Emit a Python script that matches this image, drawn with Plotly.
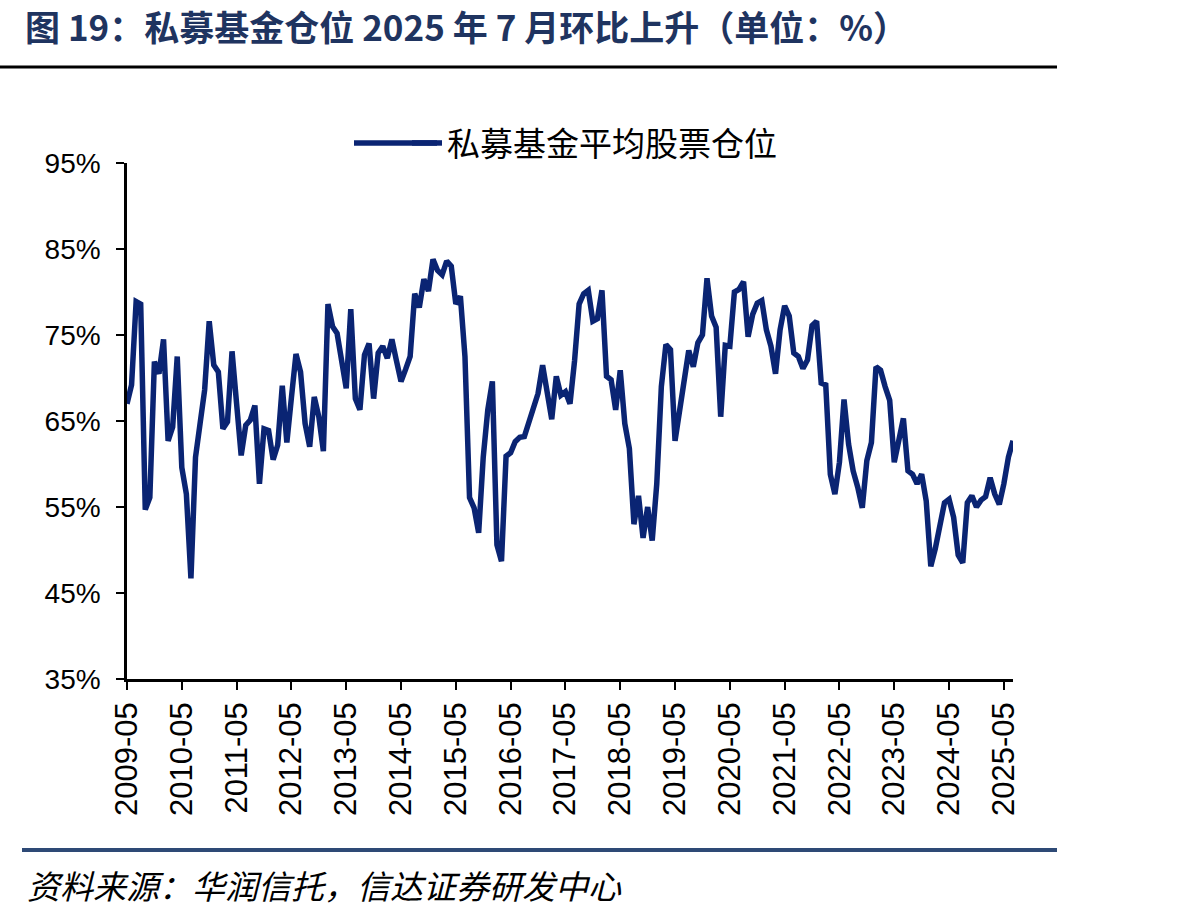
import pandas as pd
import plotly.graph_objects as go

# ---- data -------------------------------------------------------------
months = [d.strftime("%Y-%m") for d in pd.date_range("2009-05-01", "2025-07-01", freq="MS")]

position = [
    67.0, 69.2, 78.9, 78.6, 54.7, 56.1, 71.9, 70.5, 74.5, 62.7, 64.3, 72.5,   # 2009-05 .. 2010-04
    59.6, 56.5, 46.7, 60.8, 64.7, 68.6, 76.6, 71.5, 70.7, 64.1, 64.9, 73.1,   # 2010-05 .. 2011-04
    67.0, 61.0, 64.5, 65.1, 66.8, 57.7, 64.1, 63.9, 60.5, 62.2, 69.1, 62.5,   # 2011-05 .. 2012-04
    67.7, 72.8, 70.7, 64.7, 62.0, 67.8, 65.5, 61.5, 78.6, 76.0, 75.2, 72.0,   # 2012-05 .. 2013-04
    68.8, 78.0, 67.6, 66.3, 72.7, 74.0, 67.6, 72.9, 73.7, 72.3, 74.5, 72.0,   # 2013-05 .. 2014-04
    69.6, 71.0, 72.5, 79.8, 78.2, 81.5, 80.1, 83.8, 82.5, 82.0, 83.6, 83.0,   # 2014-05 .. 2015-04
    78.6, 79.5, 72.5, 56.1, 54.9, 52.0, 60.8, 66.3, 69.6, 50.6, 48.7, 60.9,   # 2015-05 .. 2016-04
    61.3, 62.6, 63.1, 63.2, 64.9, 66.3, 68.2, 71.5, 68.2, 65.2, 70.2, 68.0,   # 2016-05 .. 2017-04
    68.4, 67.0, 72.0, 78.6, 79.8, 80.2, 76.6, 76.9, 80.2, 70.2, 69.8, 66.3,   # 2017-05 .. 2018-04
    70.9, 64.7, 61.8, 53.0, 56.3, 51.4, 55.0, 51.1, 57.7, 69.0, 73.9, 73.3,   # 2018-05 .. 2019-04
    62.7, 66.3, 69.8, 73.2, 71.3, 74.1, 75.0, 81.6, 77.2, 75.9, 65.5, 73.8,   # 2019-05 .. 2020-04
    73.7, 80.0, 80.3, 81.2, 74.8, 77.4, 78.7, 79.0, 75.6, 73.7, 70.5, 75.6,   # 2020-05 .. 2021-04
    78.4, 77.2, 72.9, 72.5, 71.1, 72.1, 76.1, 76.6, 69.4, 69.2, 58.8, 56.5,   # 2021-05 .. 2022-04
    60.2, 67.5, 62.3, 59.2, 57.3, 54.9, 60.4, 62.5, 71.3, 70.9, 69.0, 67.4,   # 2022-05 .. 2023-04
    60.2, 62.9, 65.3, 59.2, 58.8, 57.7, 58.8, 55.7, 48.1, 50.2, 52.8, 55.5,   # 2023-05 .. 2024-04
    55.9, 53.8, 49.4, 48.5, 55.5, 56.3, 55.0, 55.8, 56.2, 58.4, 56.5, 55.3,   # 2024-05 .. 2025-04
    57.7, 60.8, 62.7,                                                         # 2025-05 .. 2025-07
]

series_name = "私募基金平均股票仓位"
tick_months = [m for m in months if m.endswith("-05")]
y_ticks = [35, 45, 55, 65, 75, 85, 95]
y_tick_text = ["35%", "45%", "55%", "65%", "75%", "85%", "95%"]

title_text = "图 19：私募基金仓位 2025 年 7 月环比上升（单位：%）"
source_text = "资料来源：华润信托，信达证券研发中心"

# ---- layout geometry (pixels) ----------------------------------------
W, H = 1195, 917
L, R, T, B = 127, 1195 - 1013, 163, 917 - 679
PW, PH = W - L - R, H - T - B


def px_x(x):
    return (x - L) / PW


def px_y(y):
    return (H - B - y) / PH


CJK = "Noto Sans CJK SC, Noto Sans, sans-serif"
NAVY = "#0A2473"

fig = go.Figure()
fig.add_trace(go.Scatter(
    x=months, y=position, mode="lines", name=series_name,
    line=dict(color=NAVY, width=5.5),
))

fig.update_layout(
    width=W, height=H,
    margin=dict(l=L, r=R, t=T, b=B, autoexpand=False),
    paper_bgcolor="white", plot_bgcolor="white",
    title=dict(
        text=title_text, x=25 / W, xref="container", xanchor="left",
        y=1 - 29 / H, yref="container", yanchor="middle",
        font=dict(family=CJK, size=35, color="#1F3460", weight="bold"),
    ),
    showlegend=True,
    legend=dict(
        x=407 / W, xref="container", xanchor="left",
        y=1 - 143 / H, yref="container", yanchor="middle",
        font=dict(family=CJK, size=33, color="black"),
        bgcolor="rgba(0,0,0,0)", itemwidth=30,
    ),
    xaxis=dict(
        type="category", range=[0, len(months) - 1],
        tickmode="array", tickvals=tick_months, ticktext=tick_months,
        tickangle=-90, ticks="outside", ticklen=8, tickwidth=2, tickcolor="black",
        showline=True, linecolor="black", linewidth=2.5, showgrid=False, zeroline=False,
        tickfont=dict(family="Liberation Sans, Arial, sans-serif", size=31, color="black"),
    ),
    yaxis=dict(
        range=[35, 95], tickmode="array", tickvals=y_ticks, ticktext=y_tick_text,
        ticks="outside", ticklen=8, tickwidth=2, tickcolor="black",
        showline=True, linecolor="black", linewidth=2.5, showgrid=False, zeroline=False,
        ticklabelstandoff=10,
        tickfont=dict(family="Liberation Sans, Arial, sans-serif", size=28, color="black"),
    ),
    shapes=[
        # rule under the title
        dict(type="line", xref="paper", yref="paper",
             x0=px_x(0), x1=px_x(1057), y0=px_y(67), y1=px_y(67),
             line=dict(color="black", width=3)),
        # longer legend sample
        dict(type="line", xref="paper", yref="paper",
             x0=px_x(354), x1=px_x(437), y0=px_y(143), y1=px_y(143),
             line=dict(color=NAVY, width=5.5)),
        # rule above the source
        dict(type="line", xref="paper", yref="paper",
             x0=px_x(22), x1=px_x(1057), y0=px_y(850), y1=px_y(850),
             line=dict(color="#2E4A76", width=4)),
    ],
    annotations=[
        dict(text=source_text, xref="paper", yref="paper",
             x=px_x(25), y=px_y(885), xanchor="left", yanchor="middle",
             showarrow=False,
             font=dict(family=CJK, size=33, color="black", style="italic")),
    ],
)

fig.write_html("out.html")
